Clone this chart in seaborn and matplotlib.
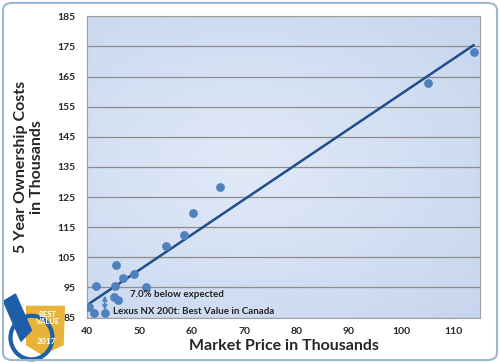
import numpy as np
import pandas as pd
import seaborn as sns
from matplotlib import pyplot as plt
from matplotlib.patches import FancyBboxPatch, Polygon, Circle

# market price vs 5 year ownership cost (thousands)
price = [40.3, 41.4, 43.4, 41.7, 45.3, 45.6, 45.2, 46.0, 46.9, 48.9, 51.3,
         55.1, 58.6, 60.2, 65.4, 105.1, 113.8]
cost = [88.6, 86.7, 86.7, 95.4, 95.4, 102.5, 91.9, 90.8, 98.3, 99.6, 95.2,
        108.7, 112.3, 119.7, 128.5, 162.9, 173.0]
xticks = [40, 50, 60, 70, 80, 90, 100, 110]
yticks = [85, 95, 105, 115, 125, 135, 145, 155, 165, 175, 185]
lexus_price = 43.4
lexus_cost = 86.7
expected_cost = 92.3

df = pd.DataFrame({'price': price, 'cost': cost})

sns.set_style('white')
plt.rcParams['font.family'] = ['Lato', 'DejaVu Sans']

fig = plt.figure(figsize=(5, 3.63), dpi=100)
ax = fig.add_axes([0.174, 0.125, 0.786, 0.83])

# outer frame
fig.patches.append(FancyBboxPatch((0.006, 0.008), 0.988, 0.984,
                                  boxstyle='round,pad=0,rounding_size=0.02',
                                  transform=fig.transFigure, fill=False,
                                  edgecolor='#9fb6d3', linewidth=1.5))

# gradient background of plot area
gx, gy = np.meshgrid(np.linspace(0, 1, 200), np.linspace(0, 1, 200))
r = np.sqrt(((gx - 0.4) / 0.9) ** 2 + ((gy - 0.5) / 0.8) ** 2)
r = np.clip(r, 0, 1)
c_in = np.array([0.88, 0.915, 0.97])
c_out = np.array([0.77, 0.83, 0.93])
img = c_in[None, None, :] * (1 - r[..., None]) + c_out[None, None, :] * r[..., None]
ax.imshow(img, extent=[40, 115, 85, 185], aspect='auto', origin='lower', zorder=0)

for y in yticks:
    ax.axhline(y, color='#8c8c8c', linewidth=0.9, zorder=1)

sns.regplot(data=df, x='price', y='cost', ax=ax, ci=None,
            scatter_kws={'s': 40, 'color': '#4f81bd', 'zorder': 3, 'linewidths': 0, 'alpha': 1},
            line_kws={'color': '#1f4e89', 'linewidth': 1.8, 'zorder': 2})

ax.annotate('', xy=(lexus_price, expected_cost), xytext=(lexus_price, lexus_cost + 0.8),
            arrowprops=dict(arrowstyle='<->', color='#4f81bd', lw=1.2, mutation_scale=7,
                            shrinkA=0, shrinkB=0),
            zorder=4)
ax.text(48.2, 92.6, '7.0% below expected', fontsize=7, fontweight='bold',
        color='#222222', va='center', zorder=5)
ax.text(45.0, 87.1, 'Lexus NX 200t: Best Value in Canada', fontsize=7,
        fontweight='bold', color='#222222', va='center', zorder=5)

ax.set_xlim(40, 115)
ax.set_ylim(85, 185)
ax.set_xticks(xticks)
ax.set_yticks(yticks)
ax.tick_params(axis='both', labelsize=7.5, length=3, color='#8c8c8c', pad=4)
for lab in ax.get_xticklabels() + ax.get_yticklabels():
    lab.set_fontweight('bold')
ax.tick_params(axis='y', length=4)
for s in ax.spines.values():
    s.set_color('#a0a0a0')
    s.set_linewidth(0.8)

ax.set_xlabel('Market Price in Thousands', fontsize=11.5, fontweight='bold', labelpad=2)
ax.set_ylabel('5 Year Ownership Costs\nin Thousands', fontsize=11.5,
              fontweight='bold', labelpad=10)

# badge approximation
bx = fig.add_axes([0.0, 0.0, 0.14, 0.2])
bx.set_xlim(0, 1)
bx.set_ylim(0, 1)
bx.axis('off')
bx.add_patch(Polygon([[0.38, 0.78], [0.92, 0.78], [0.9, 0.25], [0.6, 0.12], [0.38, 0.25]],
                     closed=True, color='#e8b33a'))
bx.add_patch(Circle((0.45, 0.35), 0.3, fill=False, edgecolor='#1f5ea8', linewidth=3))
bx.add_patch(Polygon([[0.05, 0.85], [0.22, 0.95], [0.45, 0.45], [0.3, 0.3]],
                     closed=True, color='#1f5ea8'))
bx.text(0.67, 0.62, 'BEST\nVALUE', color='white', fontsize=5.5, fontweight='bold',
        ha='center', va='center', linespacing=0.85)
bx.text(0.67, 0.3, '2017', color='white', fontsize=6, fontweight='bold',
        ha='center', va='center')

plt.savefig('out.png', dpi=100)
